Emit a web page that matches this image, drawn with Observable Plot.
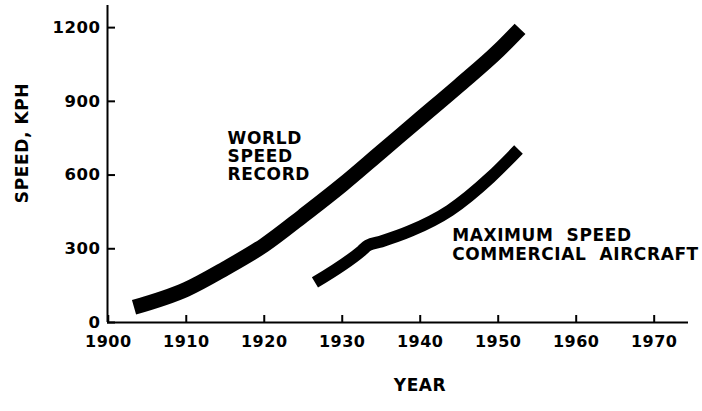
<!DOCTYPE html>
<html><head><meta charset="utf-8">
<script src="https://cdn.jsdelivr.net/npm/d3@7"></script>
<script src="https://cdn.jsdelivr.net/npm/@observablehq/plot@0.6"></script>
<style>
body{margin:0;background:#fff}
svg text{letter-spacing:0.5px}
svg g[aria-label="text"] text{letter-spacing:0.6px}
</style>
</head><body><div id="chart"></div>
<script>
// World speed record (centre line of the thick band)
const recordYears  = [1903.3, 1910, 1915, 1920, 1925, 1930, 1935, 1940, 1945, 1950, 1952.8];
const recordSpeeds = [62, 135, 220, 315, 435, 560, 695, 830, 965, 1105, 1195];
// Maximum speed of commercial aircraft
const commercialYears  = [1926.5, 1932.5, 1933.3, 1935, 1938.7, 1943.8, 1949.0, 1952.6];
const commercialSpeeds = [163, 292, 314, 330, 372, 456, 590, 704];
// Axes
const xTicks = [1900, 1910, 1920, 1930, 1940, 1950, 1960, 1970];
const yTicks = [0, 300, 600, 900, 1200];
const xDomain = [1899.9, 1974.4];
const yDomain = [0, 1290];
const xTitle = "YEAR";
const yTitle = "SPEED, KPH";
const labelTexts = ["WORLD\nSPEED\nRECORD", "MAXIMUM  SPEED\nCOMMERCIAL  AIRCRAFT"];
const labelYears = [1915.3, 1944.1];
const labelSpeeds = [781, 383];

const record = recordYears.map((x, i) => ({x, y: recordSpeeds[i]}));
const commercial = commercialYears.map((x, i) => ({x, y: commercialSpeeds[i]}));
const labels = labelTexts.map((t, i) => ({t, x: labelYears[i], y: labelSpeeds[i]}));

const chart = Plot.plot({
  width: 702,
  height: 411,
  marginLeft: 107,
  marginRight: 14,
  marginTop: 5,
  marginBottom: 89,
  style: {fontFamily: "DejaVu Sans", fontSize: "17px", fontWeight: "bold", color: "#000", background: "#fff"},
  x: {domain: xDomain},
  y: {domain: yDomain},
  marks: [
    Plot.line(record, {x: "x", y: "y", stroke: "#000", strokeWidth: 15, curve: "monotone-x", strokeLinecap: "butt", strokeLinejoin: "round"}),
    Plot.line(commercial, {x: "x", y: "y", stroke: "#000", strokeWidth: 12, curve: "monotone-x", strokeLinecap: "butt", strokeLinejoin: "round"}),
    Plot.ruleY([yDomain[0]], {stroke: "#000", strokeWidth: 2}),
    Plot.ruleX([xDomain[0]], {stroke: "#000", strokeWidth: 2}),
    Plot.axisX(xTicks, {tickSize: 7, dy: -7, tickPadding: 13, strokeWidth: 2, label: null, tickFormat: d => String(d), fontSize: 16}),
    Plot.axisY(yTicks, {tickSize: 8, dx: 8, tickPadding: 7, strokeWidth: 2, label: null, tickFormat: d => String(d), fontSize: 16.5}),
    Plot.text(labels, {x: "x", y: "y", text: "t", textAnchor: "start", lineAnchor: "top", lineHeight: 1.08, fontSize: 17}),
    Plot.text([yTitle], {frameAnchor: "left", textAnchor: "middle", lineAnchor: "middle", rotate: -90, dx: -85, dy: -21, fontSize: 17}),
    Plot.text([xTitle], {frameAnchor: "bottom", textAnchor: "middle", lineAnchor: "middle", dx: 22, dy: 63, fontSize: 17})
  ]
});
document.getElementById("chart").appendChild(chart);
</script>
</body></html>
